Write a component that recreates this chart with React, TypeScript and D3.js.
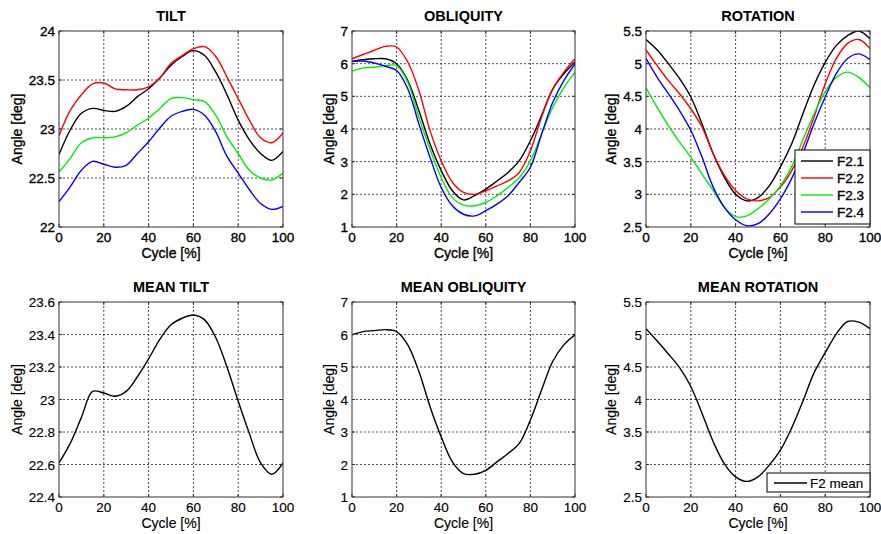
import React from "react";
import * as d3 from "d3";

const cycle = [0,5,10,15,20,25,30,35,40,45,50,55,60,65,70,75,80,85,90,95,100];

const tiltF21 = [22.74,22.99,23.16,23.21,23.19,23.18,23.23,23.33,23.41,23.52,23.65,23.74,23.80,23.75,23.58,23.35,23.09,22.89,22.75,22.68,22.77];
const tiltF22 = [22.93,23.19,23.35,23.46,23.47,23.41,23.40,23.40,23.43,23.52,23.67,23.75,23.82,23.84,23.74,23.53,23.31,23.09,22.91,22.86,22.96];
const tiltF23 = [22.56,22.70,22.86,22.91,22.91,22.92,22.96,23.04,23.11,23.21,23.31,23.32,23.30,23.28,23.14,22.92,22.75,22.58,22.50,22.48,22.55];
const tiltF24 = [22.26,22.41,22.58,22.67,22.64,22.61,22.63,22.75,22.87,23.01,23.13,23.18,23.20,23.14,22.97,22.72,22.55,22.38,22.24,22.18,22.21];

const oblF21 = [6.07,6.12,6.15,6.15,6.00,5.48,4.56,3.54,2.73,2.11,1.83,1.96,2.16,2.41,2.67,3.03,3.64,4.41,5.22,5.69,6.05];
const oblF22 = [6.15,6.28,6.41,6.53,6.51,6.05,5.18,3.95,3.03,2.37,2.06,2.00,2.11,2.26,2.41,2.67,3.33,4.36,5.22,5.74,6.15];
const oblF23 = [5.77,5.87,5.89,5.94,5.94,5.43,4.35,3.38,2.51,1.90,1.67,1.65,1.75,1.96,2.21,2.51,3.03,3.84,4.66,5.27,5.74];
const oblF24 = [6.07,6.08,6.02,5.92,5.79,5.23,4.15,3.13,2.21,1.65,1.39,1.34,1.50,1.70,1.96,2.37,2.83,3.84,4.81,5.48,5.99];

const rotF21 = [5.37,5.21,5.00,4.77,4.49,4.08,3.62,3.26,3.00,2.90,2.95,3.13,3.42,3.77,4.23,4.67,5.02,5.28,5.43,5.50,5.38];
const rotF22 = [5.21,4.97,4.74,4.54,4.31,4.03,3.62,3.29,3.06,2.93,2.90,2.95,3.11,3.36,3.72,4.18,4.69,5.08,5.31,5.37,5.23];
const rotF23 = [4.63,4.33,4.05,3.80,3.57,3.31,3.06,2.80,2.66,2.67,2.78,2.93,3.13,3.42,3.83,4.23,4.57,4.79,4.87,4.79,4.63];
const rotF24 = [5.08,4.79,4.54,4.28,3.98,3.57,3.11,2.80,2.61,2.52,2.55,2.70,2.93,3.24,3.62,4.08,4.49,4.85,5.08,5.15,5.06];

const meanTilt = [22.61,22.73,22.89,23.05,23.04,23.02,23.05,23.14,23.25,23.37,23.46,23.50,23.52,23.49,23.38,23.20,22.99,22.79,22.61,22.54,22.61];
const meanObl = [5.99,6.09,6.12,6.15,6.09,5.68,4.86,3.78,2.85,2.08,1.72,1.70,1.82,2.08,2.34,2.65,3.37,4.29,5.17,5.68,5.99];
const meanRot = [5.09,4.90,4.70,4.49,4.20,3.79,3.35,3.01,2.81,2.74,2.81,2.99,3.22,3.56,3.97,4.41,4.72,5.01,5.20,5.19,5.09];

const xTicks = [0,20,40,60,80,100];
const seriesNames = ["F2.1","F2.2","F2.3","F2.4"];
const seriesColors = ["#000000","#ff0000","#00ee00","#0000ff"];
const meanName = "F2 mean";

type Panel = {
  title: string;
  series: number[][];
  colors: string[];
  domain: [number, number];
  yTicks: number[];
  box: [number, number, number, number];
  labelOffset: number;
  weight: number;
  legend?: "four" | "mean";
};

const fmt = (v: number) => String(+v.toFixed(2));

const panels: Panel[] = [
  { title: "TILT", series: [tiltF21, tiltF22, tiltF23, tiltF24], colors: seriesColors, domain: [22, 24], yTicks: [22,22.5,23,23.5,24], box: [59, 31, 283, 227], labelOffset: 42, weight: 0.35 },
  { title: "OBLIQUITY", series: [oblF21, oblF22, oblF23, oblF24], colors: seriesColors, domain: [1, 7], yTicks: [1,2,3,4,5,6,7], box: [352, 31, 575, 227], labelOffset: 23, weight: 0.35 },
  { title: "ROTATION", series: [rotF21, rotF22, rotF23, rotF24], colors: seriesColors, domain: [2.5, 5.5], yTicks: [2.5,3,3.5,4,4.5,5,5.5], box: [646, 31, 870, 227], labelOffset: 35, weight: 0.35, legend: "four" },
  { title: "MEAN TILT", series: [meanTilt], colors: ["#000"], domain: [22.4, 23.6], yTicks: [22.4,22.6,22.8,23,23.2,23.4,23.6], box: [59, 302, 283, 497], labelOffset: 42, weight: 0.15 },
  { title: "MEAN OBLIQUITY", series: [meanObl], colors: ["#000"], domain: [1, 7], yTicks: [1,2,3,4,5,6,7], box: [352, 302, 575, 497], labelOffset: 23, weight: 0.15 },
  { title: "MEAN ROTATION", series: [meanRot], colors: ["#000"], domain: [2.5, 5.5], yTicks: [2.5,3,3.5,4,4.5,5,5.5], box: [646, 302, 870, 497], labelOffset: 35, weight: 0.15, legend: "mean" },
];

const FONT = "'Liberation Sans', Arial, sans-serif";
const TICK_FS = 13.5;
const LABEL_FS = 14;

function PanelView({ p }: { p: Panel }) {
  const [x0, y0, x1, y1] = p.box;
  const x = d3.scaleLinear().domain([0, 100]).range([x0, x1]);
  const y = d3.scaleLinear().domain(p.domain).range([y1, y0]);
  const line = d3.line<number>().x((_, i) => x(cycle[i])).y((v) => y(v)).curve(d3.curveCatmullRom.alpha(0.5));
  const cx = (x0 + x1) / 2;
  const cy = (y0 + y1) / 2;
  const id = "clip" + p.title.replace(/ /g, "");
  const ts = { fontFamily: FONT, stroke: "#000", strokeWidth: p.weight } as const;
  return (
    <g>
      <rect x={x0} y={y0} width={x1 - x0} height={y1 - y0} fill="#fff" />
      {xTicks.slice(1, -1).map((t) => (
        <line key={"gx" + t} x1={x(t)} x2={x(t)} y1={y0} y2={y1} stroke="#000" strokeWidth={0.7} strokeDasharray="2,2" />
      ))}
      {p.yTicks.slice(1, -1).map((t) => (
        <line key={"gy" + t} x1={x0} x2={x1} y1={y(t)} y2={y(t)} stroke="#000" strokeWidth={0.7} strokeDasharray="2,2" />
      ))}
      <clipPath id={id}>
        <rect x={x0} y={y0} width={x1 - x0} height={y1 - y0} />
      </clipPath>
      <g clipPath={`url(#${id})`}>
        {p.series.map((s, i) => (
          <path key={i} d={line(s) || ""} fill="none" stroke={p.colors[i]} strokeWidth={1.4} />
        ))}
      </g>
      {xTicks.map((t) => (
        <g key={"tx" + t}>
          <line x1={x(t)} x2={x(t)} y1={y1} y2={y1 - 3} stroke="#333" />
          <line x1={x(t)} x2={x(t)} y1={y0} y2={y0 + 3} stroke="#333" />
          <text x={x(t)} y={y1 + 15} textAnchor="middle" fontSize={TICK_FS} {...ts}>{t}</text>
        </g>
      ))}
      {p.yTicks.map((t) => (
        <g key={"ty" + t}>
          <line x1={x0} x2={x0 + 3} y1={y(t)} y2={y(t)} stroke="#333" />
          <line x1={x1} x2={x1 - 3} y1={y(t)} y2={y(t)} stroke="#333" />
          <text x={x0 - 4} y={y(t) + 5} textAnchor="end" fontSize={TICK_FS} {...ts}>{fmt(t)}</text>
        </g>
      ))}
      <rect x={x0} y={y0} width={x1 - x0} height={y1 - y0} fill="none" stroke="#333" strokeWidth={1} />
      <text x={cx} y={y0 - 10.5} textAnchor="middle" fontSize={14.5} fontWeight="bold" fontFamily={FONT}>{p.title}</text>
      <text x={cx} y={y1 + 31} textAnchor="middle" fontSize={LABEL_FS} {...ts}>Cycle [%]</text>
      <text transform={`translate(${x0 - p.labelOffset},${cy}) rotate(-90)`} y={5} textAnchor="middle" fontSize={LABEL_FS} {...ts}>Angle [deg]</text>
      {p.legend === "four" && (
        <g>
          <rect x={795} y={150} width={x1 - 795} height={74} fill="#fff" stroke="#000" strokeWidth={1} />
          {seriesNames.map((n, i) => (
            <g key={n}>
              <line x1={801} x2={833} y1={161 + i * 17} y2={161 + i * 17} stroke={seriesColors[i]} strokeWidth={1.4} />
              <text x={837} y={166 + i * 17} fontSize={TICK_FS} {...ts}>{n}</text>
            </g>
          ))}
        </g>
      )}
      {p.legend === "mean" && (
        <g>
          <rect x={767} y={473} width={x1 - 767} height={19} fill="#fff" stroke="#000" strokeWidth={1} />
          <line x1={774} x2={807} y1={483} y2={483} stroke="#000" strokeWidth={1.4} />
          <text x={810} y={488} fontSize={TICK_FS} {...ts}>{meanName}</text>
        </g>
      )}
    </g>
  );
}

export default function App() {
  return (
    <svg width={881} height={534} style={{ position: "absolute", left: 0, top: 0, display: "block", background: "#fff" }}>
      <rect width={881} height={534} fill="#fff" />
      {panels.map((p) => (
        <PanelView key={p.title} p={p} />
      ))}
    </svg>
  );
}
